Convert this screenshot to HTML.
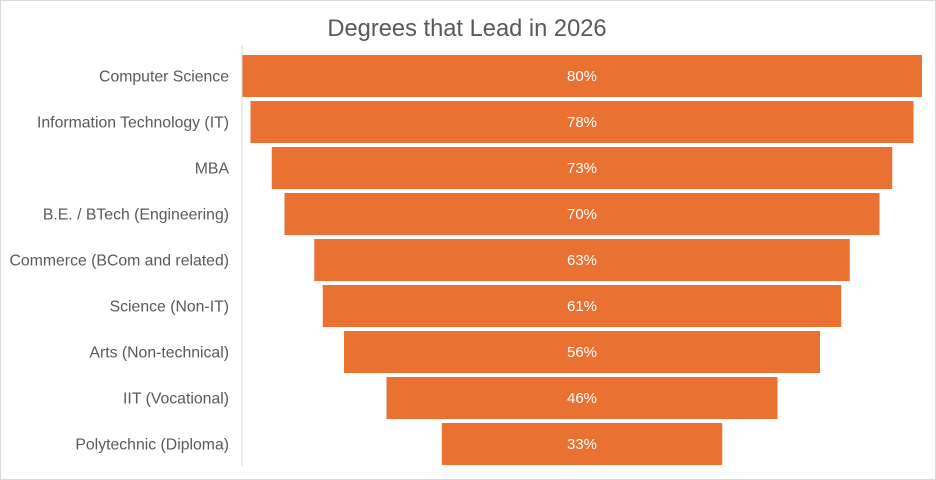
<!DOCTYPE html>
<html><head><meta charset="utf-8"><style>
html,body{margin:0;padding:0;background:#fff;}
svg{display:block;}
</style></head><body>
<svg width="936" height="480" xmlns="http://www.w3.org/2000/svg" font-family="Liberation Sans, Arial, sans-serif">
<rect x="0.5" y="0.5" width="935" height="479" fill="#fff" stroke="#d9d9d9"/>
<text x="467" y="36" text-anchor="middle" font-size="23.7" fill="#595959">Degrees that Lead in 2026</text>
<g fill="#E97132">
<rect x="242" y="55" width="680" height="42"/>
<rect x="250.5" y="101" width="663" height="42"/>
<rect x="271.75" y="147" width="620.5" height="42"/>
<rect x="284.5" y="193" width="595" height="42"/>
<rect x="314.25" y="239" width="535.5" height="42"/>
<rect x="322.75" y="285" width="518.5" height="42"/>
<rect x="344" y="331" width="476" height="42"/>
<rect x="386.5" y="377" width="391" height="42"/>
<rect x="441.75" y="423" width="280.5" height="42"/>
</g>
<line x1="242" y1="45" x2="242" y2="466" stroke="#d9d9d9"/>
<g font-size="15.8" fill="#595959" text-anchor="end">
<text x="229" y="81.5">Computer Science</text>
<text x="229" y="127.5">Information Technology (IT)</text>
<text x="229" y="173.5">MBA</text>
<text x="229" y="219.5">B.E. / BTech (Engineering)</text>
<text x="229" y="265.5">Commerce (BCom and related)</text>
<text x="229" y="311.5">Science (Non-IT)</text>
<text x="229" y="357.5">Arts (Non-technical)</text>
<text x="229" y="403.5">IIT (Vocational)</text>
<text x="229" y="449.5">Polytechnic (Diploma)</text>
</g>
<g font-size="15" fill="#fff" text-anchor="middle">
<text x="582" y="81">80%</text>
<text x="582" y="127">78%</text>
<text x="582" y="173">73%</text>
<text x="582" y="219">70%</text>
<text x="582" y="265">63%</text>
<text x="582" y="311">61%</text>
<text x="582" y="357">56%</text>
<text x="582" y="403">46%</text>
<text x="582" y="449">33%</text>
</g>
</svg>
</body></html>
